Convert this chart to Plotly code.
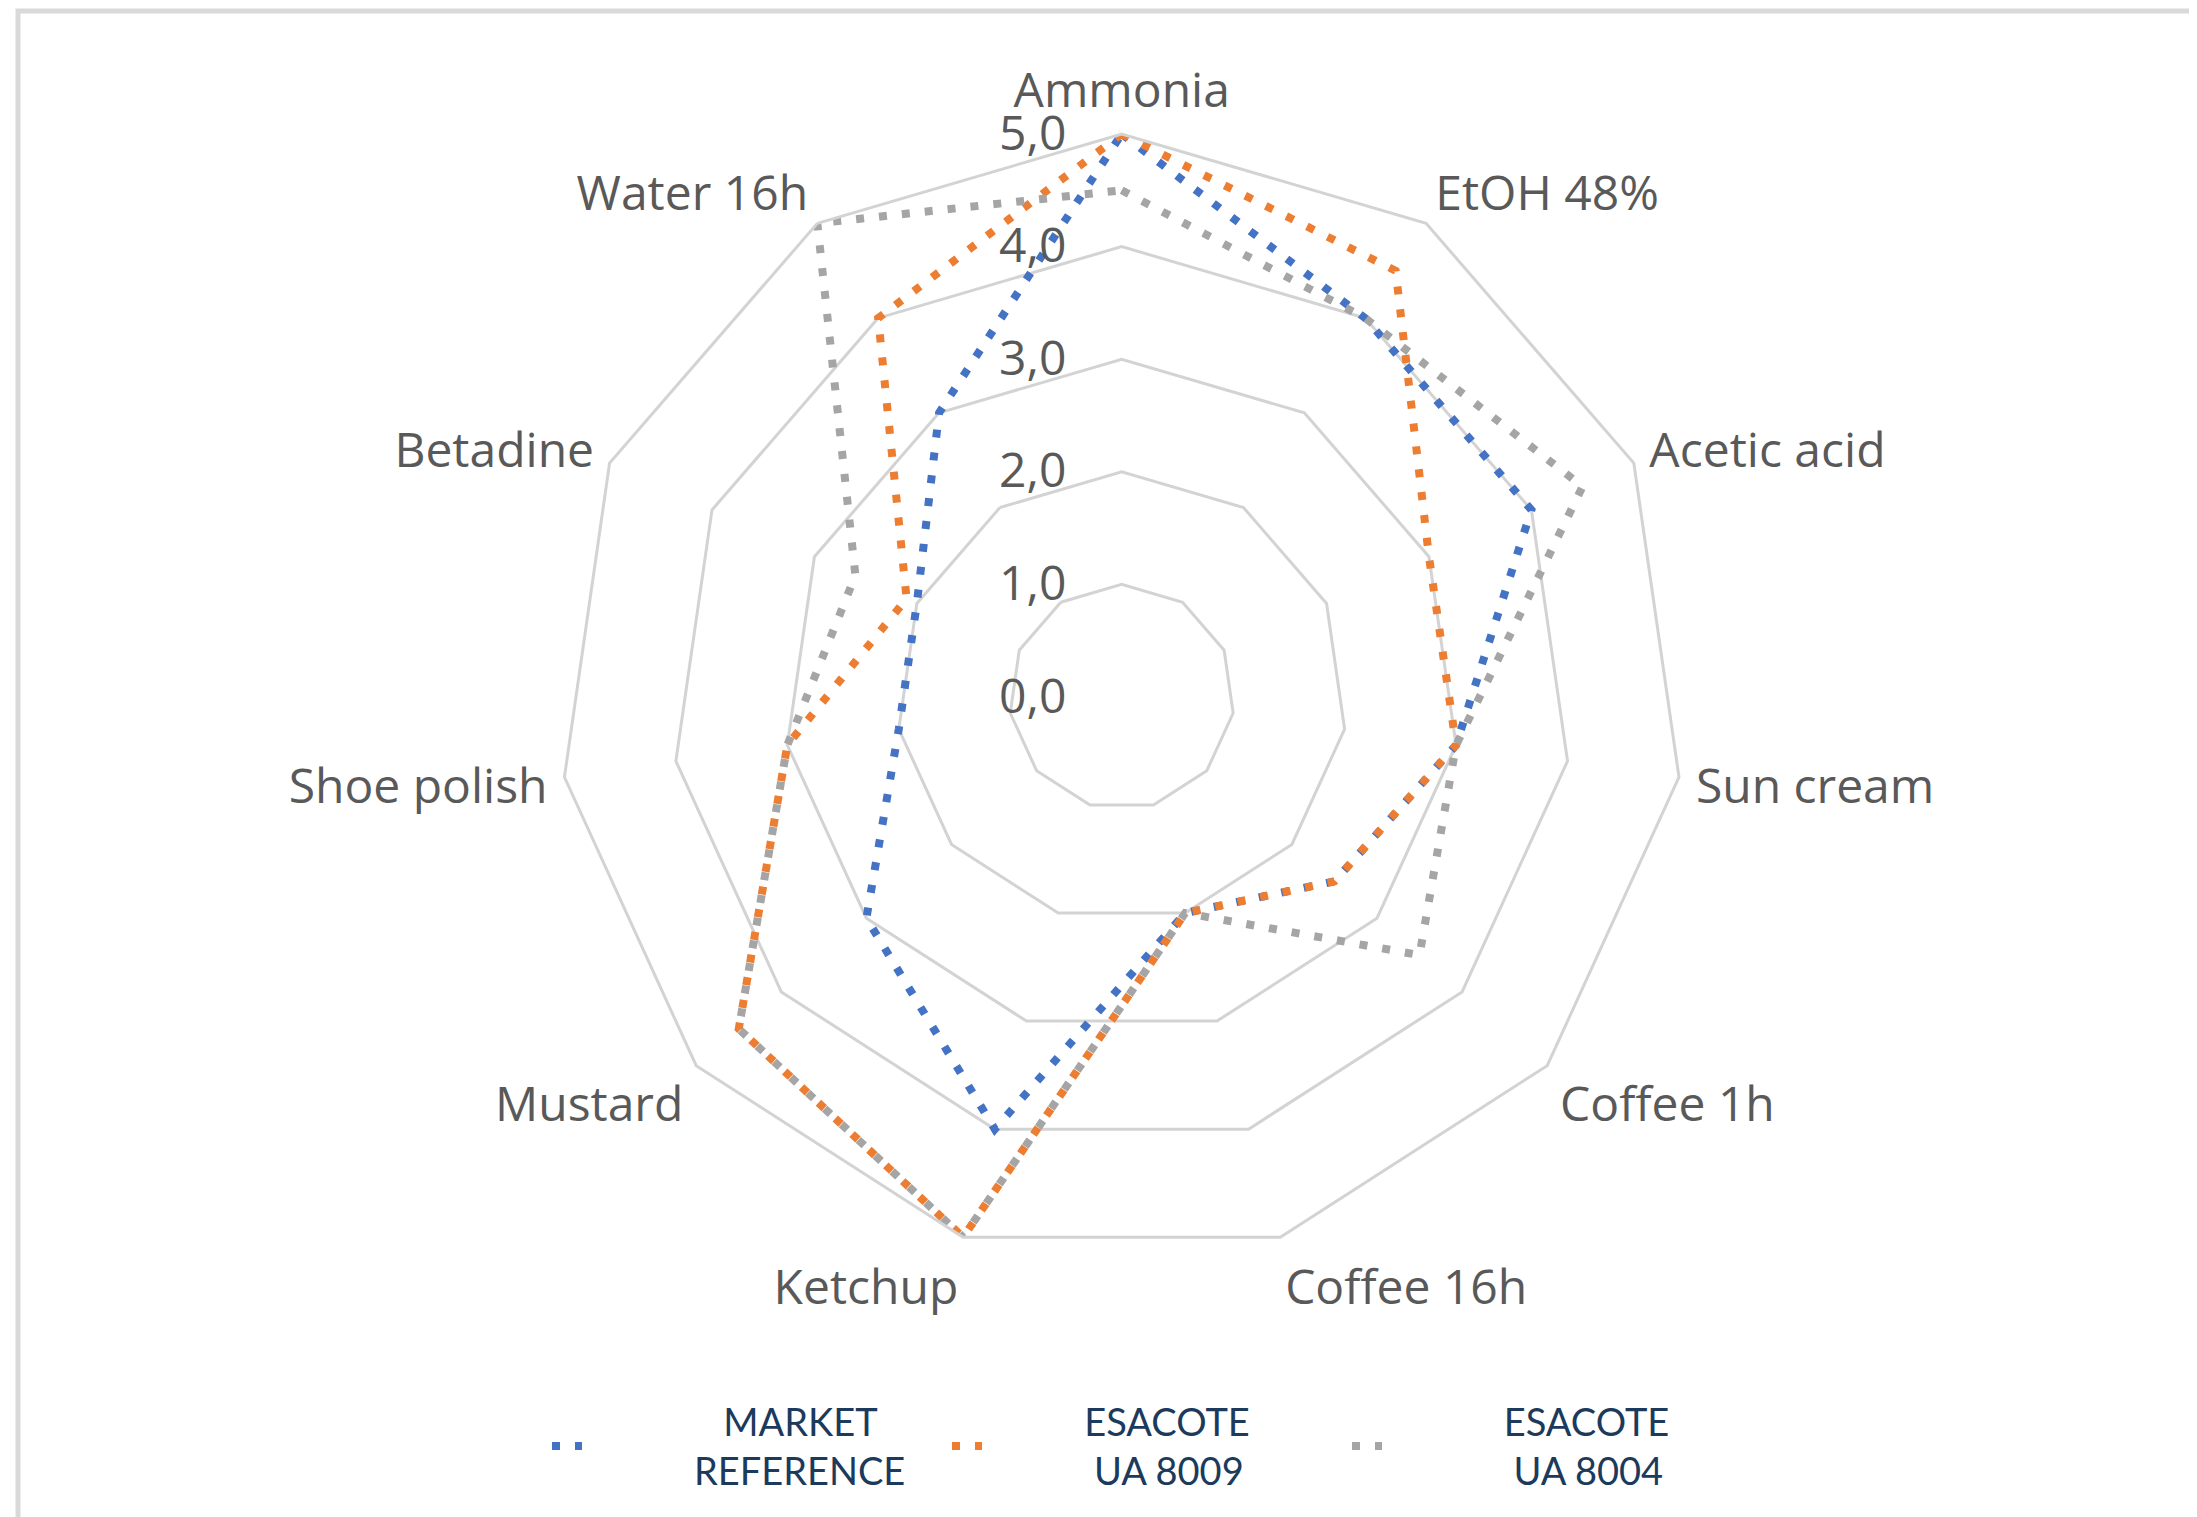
import plotly.graph_objects as go

categories = ["Ammonia", "EtOH 48%", "Acetic acid", "Sun cream", "Coffee 1h",
              "Coffee 16h", "Ketchup", "Mustard", "Shoe polish", "Betadine", "Water 16h"]
market_reference = [5.0, 4.0, 4.0, 3.0, 2.5, 2.0, 4.0, 3.0, 2.0, 2.0, 3.0]
esacote_ua_8009 = [5.0, 4.5, 3.0, 3.0, 2.5, 2.0, 5.0, 4.5, 3.0, 2.1, 4.0]
esacote_ua_8004 = [4.5, 4.0, 4.5, 3.0, 3.5, 2.0, 5.0, 4.5, 3.0, 2.6, 5.0]
radial_ticks = [0, 1, 2, 3, 4, 5]

NB = "\u00a0"
series = [
    (NB * 14 + "MARKET<br>" + NB * 11 + "REFERENCE", market_reference, "#4472C4"),
    (NB * 10 + "ESACOTE<br>" + NB * 11 + "UA 8009", esacote_ua_8009, "#ED7D31"),
    (NB * 12 + "ESACOTE<br>" + NB * 13 + "UA 8004", esacote_ua_8004, "#A5A5A5"),
]

# page is drawn with the browser's default 8px body margin
M = 8
W, H = 2197 - M, 1517 - M
cx, cy, R = 1121.7 - M, 697.0 - M, 563.0

fig = go.Figure()
for name, vals, color in series:
    fig.add_trace(go.Scatterpolar(
        r=vals + vals[:1],
        theta=categories + categories[:1],
        mode="lines",
        name=name,
        line=dict(color=color, width=8, dash="8px,15px"),
    ))

fig.update_layout(
    width=W, height=H,
    margin=dict(l=0, r=0, t=0, b=0),
    paper_bgcolor="white",
    plot_bgcolor="white",
    separators=",.",
    font=dict(family="Open Sans", color="#595959", size=48),
    polar=dict(
        domain=dict(x=[(cx - R) / W, (cx + R) / W],
                    y=[1 - (cy + R) / H, 1 - (cy - R) / H]),
        bgcolor="white",
        gridshape="linear",
        radialaxis=dict(
            range=[0, 5],
            tickvals=radial_ticks,
            tickformat=".1f",
            angle=90,
            tickangle=90,
            side="counterclockwise",
            showline=False,
            ticks="outside",
            ticklen=38,
            tickcolor="rgba(0,0,0,0)",
            gridcolor="#D3D3D3",
            gridwidth=3,
            tickfont=dict(family="Open Sans", size=48, color="#595959"),
        ),
        angularaxis=dict(
            rotation=90,
            direction="clockwise",
            showgrid=False,
            showline=True,
            linecolor="#D3D3D3",
            linewidth=3,
            ticks="outside",
            ticklen=6,
            tickcolor="rgba(0,0,0,0)",
            tickfont=dict(family="Open Sans", size=48, color="#595959"),
        ),
    ),
    legend=dict(
        orientation="h",
        x=(552 - M - 5) / W, xanchor="left",
        y=(H - (1390 - M)) / H, yanchor="top",
        font=dict(family="Lato", size=38, color="#1B3A5C"),
        entrywidth=355,
        itemwidth=30,
    ),
    shapes=[dict(
        type="rect", xref="paper", yref="paper",
        x0=(18 - M) / W, x1=1.05, y0=-0.05, y1=1 - (11 - M) / H,
        line=dict(color="#D9D9D9", width=5),
        fillcolor="rgba(0,0,0,0)",
    )],
)

fig.write_html("out.html")
